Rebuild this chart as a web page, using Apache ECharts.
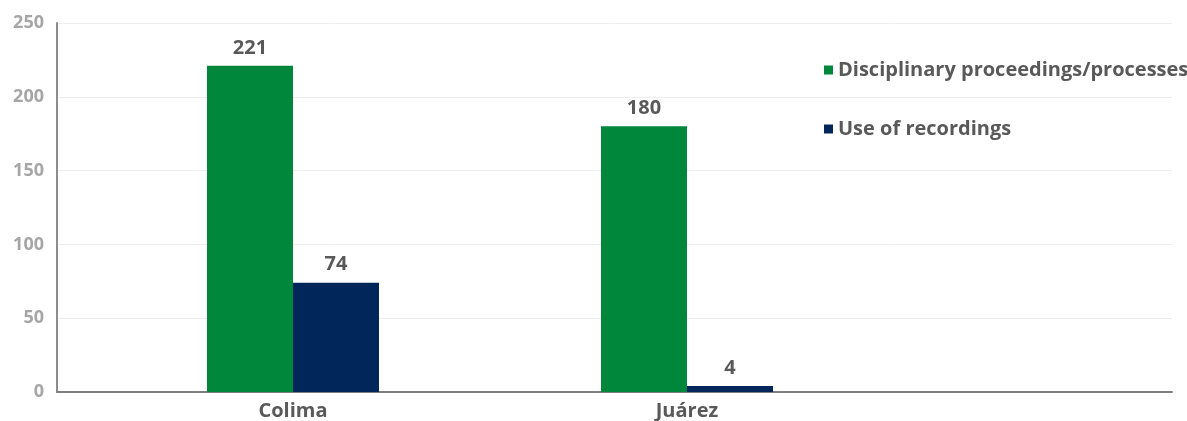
<!DOCTYPE html>
<html>
<head>
<meta charset="utf-8">
<script src="https://cdn.jsdelivr.net/npm/echarts@6/dist/echarts.min.js"></script>
<style>html,body{margin:0;padding:0;background:#fff}#c{width:1187px;height:421px}</style>
</head>
<body>
<div id="c"></div>
<script>
const categories = ['Colima', 'Juárez'];
const seriesNames = ['Disciplinary proceedings/processes', 'Use of recordings'];
const disciplinary = [221, 180];
const recordings = [74, 4];
const yTicks = { min: 0, max: 250, interval: 50 };

const FONT = '"Open Sans"';
const chart = echarts.init(document.getElementById('c'), null, { renderer: 'canvas' });
chart.setOption({
  backgroundColor: '#ffffff',
  animation: false,
  textStyle: { fontFamily: FONT },
  grid: [
    { left: 57, right: 15, top: 23, bottom: 29 },
    { left: 96, width: 788, top: 23, bottom: 29 }
  ],
  legend: {
    orient: 'vertical',
    left: 819,
    top: 53,
    itemWidth: 9,
    itemHeight: 9,
    itemGap: 35,
    icon: 'rect',
    textStyle: { fontFamily: FONT, fontSize: 20, fontWeight: 'bold', color: '#595959', lineHeight: 24 },
    data: seriesNames
  },
  xAxis: [
    {
      gridIndex: 0, type: 'category', data: [''],
      axisLine: { show: true, lineStyle: { color: '#7f7f7f', width: 2 } },
      axisTick: { show: false }, axisLabel: { show: false }, splitLine: { show: false }
    },
    {
      gridIndex: 1, type: 'category', data: categories,
      axisLine: { show: false }, axisTick: { show: false },
      axisLabel: { margin: 9, fontFamily: FONT, fontSize: 20, fontWeight: 'bold', color: '#595959' }
    }
  ],
  yAxis: [
    {
      gridIndex: 0, type: 'value', min: yTicks.min, max: yTicks.max, interval: yTicks.interval,
      axisLine: { show: true, lineStyle: { color: '#8c8c8c', width: 2 } },
      axisTick: { show: false },
      axisLabel: { margin: 13, fontFamily: FONT, fontSize: 18, fontWeight: 'bold', color: '#a6a6a6' },
      splitLine: { show: true, lineStyle: { color: '#eeeeee', width: 1 } }
    },
    {
      gridIndex: 1, type: 'value', min: yTicks.min, max: yTicks.max, interval: yTicks.interval, show: false,
      splitLine: { show: false }
    }
  ],
  series: [
    {
      name: seriesNames[0], type: 'bar', xAxisIndex: 1, yAxisIndex: 1,
      data: disciplinary, barWidth: 86, barGap: '0%',
      itemStyle: { color: '#01873b' },
      label: { show: true, position: 'top', distance: 8, fontFamily: FONT, fontSize: 20, fontWeight: 'bold', color: '#595959' }
    },
    {
      name: seriesNames[1], type: 'bar', xAxisIndex: 1, yAxisIndex: 1,
      data: recordings, barWidth: 86, barGap: '0%',
      itemStyle: { color: '#00265a' },
      label: { show: true, position: 'top', distance: 8, fontFamily: FONT, fontSize: 20, fontWeight: 'bold', color: '#595959' }
    }
  ]
});
</script>
</body>
</html>
